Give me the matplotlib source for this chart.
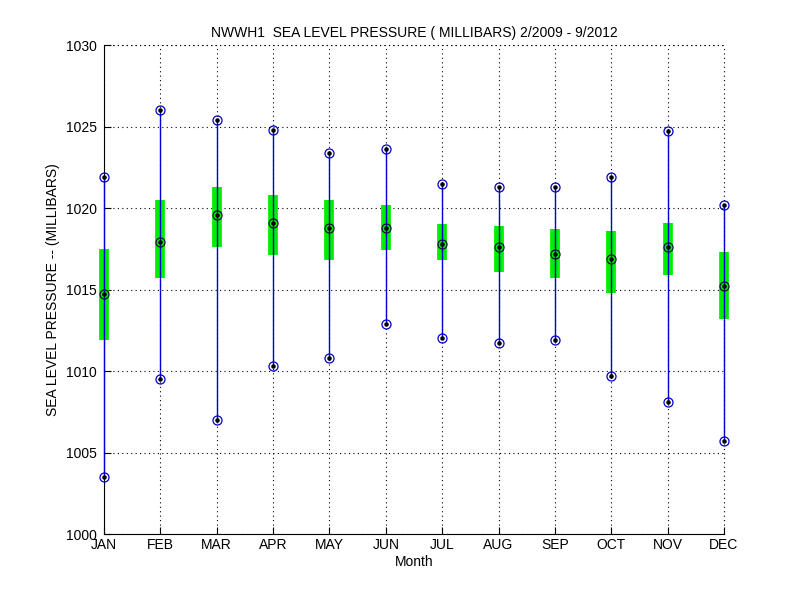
import numpy as np
import matplotlib
matplotlib.use('Agg')
import matplotlib.pyplot as plt

months = ['JAN', 'FEB', 'MAR', 'APR', 'MAY', 'JUN',
          'JUL', 'AUG', 'SEP', 'OCT', 'NOV', 'DEC']
p_max = [1021.9, 1026.0, 1025.4, 1024.8, 1023.4, 1023.6,
         1021.5, 1021.3, 1021.3, 1021.9, 1024.7, 1020.2]
p_min = [1003.5, 1009.5, 1007.0, 1010.3, 1010.8, 1012.9,
         1012.0, 1011.7, 1011.9, 1009.7, 1008.1, 1005.7]
p_mean = [1014.7, 1017.9, 1019.6, 1019.1, 1018.8, 1018.8,
          1017.8, 1017.6, 1017.2, 1016.9, 1017.6, 1015.2]
# mean +/- std box
box_hi = [1017.5, 1020.5, 1021.3, 1020.8, 1020.5, 1020.2,
          1019.0, 1018.9, 1018.7, 1018.6, 1019.1, 1017.3]
box_lo = [1011.9, 1015.7, 1017.6, 1017.1, 1016.8, 1017.4,
          1016.8, 1016.1, 1015.7, 1014.8, 1015.9, 1013.2]

x = np.arange(1, 13)

plt.rcParams['font.family'] = ['Liberation Sans', 'DejaVu Sans']
fig = plt.figure(figsize=(8, 6), dpi=100)
ax = fig.add_axes([0.13, 0.11, 0.775, 0.815])

# green boxes
for xi, lo, hi in zip(x, box_lo, box_hi):
    ax.plot([xi, xi], [lo, hi], color='#00ee00', lw=7, solid_capstyle='butt',
            zorder=2, clip_on=False)

# whiskers
for xi, lo, hi in zip(x, p_min, p_max):
    ax.plot([xi, xi], [lo, hi], color='#0000cc', lw=1, zorder=3, clip_on=False)

ax.plot(x, p_max, 'o', mfc='none', mec='#0000cc', ms=6.5, mew=0.9, zorder=4, clip_on=False)
ax.plot(x, p_min, 'o', mfc='none', mec='#0000cc', ms=6.5, mew=0.9, zorder=4, clip_on=False)
ax.plot(x, p_mean, 'o', mfc='none', mec='#101040', ms=6.5, mew=0.9, zorder=4, clip_on=False)
ax.plot(x, p_max, '.', color='black', ms=4.5, zorder=5, clip_on=False)
ax.plot(x, p_min, '.', color='black', ms=4.5, zorder=5, clip_on=False)
ax.plot(x, p_mean, '.', color='black', ms=4.5, zorder=5, clip_on=False)

ax.set_xlim(1, 12)
ax.set_ylim(1000, 1030)
ax.set_xticks(x)
ax.set_xticklabels(months)
ax.set_yticks(np.arange(1000, 1031, 5))
ax.grid(True, linestyle=(0, (1, 3)), color='black', lw=0.8)
for s in ['top', 'right']:
    ax.spines[s].set_visible(False)
ax.tick_params(direction='in', length=5, labelsize=10)
ax.tick_params(axis='x', pad=3)
ax.tick_params(axis='y', pad=5)
ax.axhline(1030, color='black', linestyle=(0, (1, 3)), lw=0.8, clip_on=False)
ax.axvline(12, color='black', linestyle=(0, (1, 3)), lw=0.8, clip_on=False)

ax.set_title('NWWH1  SEA LEVEL PRESSURE ( MILLIBARS) 2/2009 - 9/2012', fontsize=10)
ax.set_xlabel('Month', fontsize=10, labelpad=2)
ax.set_ylabel('SEA LEVEL PRESSURE -- (MILLIBARS)', fontsize=10)

fig.savefig('out.png', dpi=100)
